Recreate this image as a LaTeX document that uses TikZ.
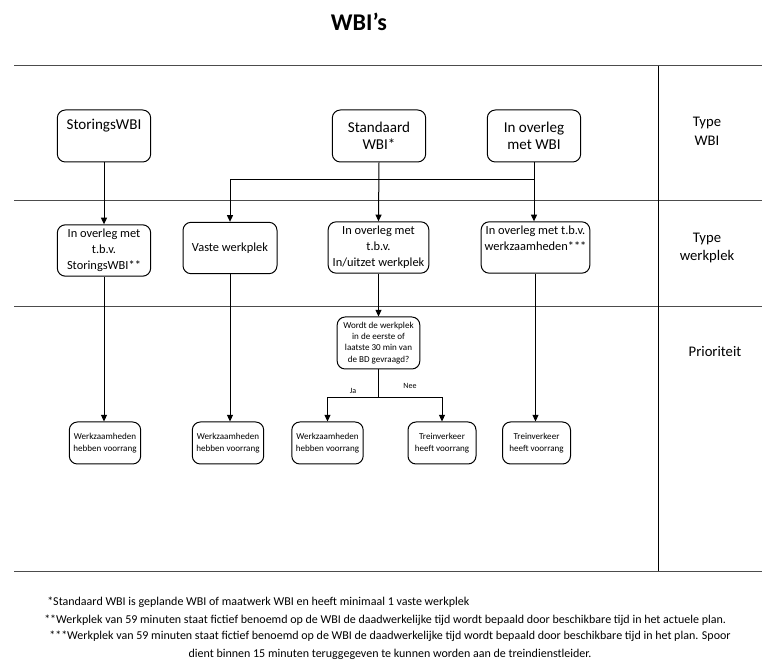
\documentclass[tikz,border=0pt]{standalone}
\usepackage{fontspec}
\setmainfont{Carlito}
\usetikzlibrary{arrows.meta}
\begin{document}
\begin{tikzpicture}[x=0.75pt,y=-0.75pt,
  box/.style={draw=black,line width=0.75pt,rounded corners=6pt,align=center,inner sep=1pt,fill=white},
  topbox/.style={box,minimum width=70pt,minimum height=39pt,font=\fontsize{11.3}{13}\selectfont},
  midbox/.style={box,minimum height=38.5pt,font=\fontsize{9.3}{12}\selectfont},
  lowbox/.style={box,minimum width=53.5pt,minimum height=31.5pt,font=\fontsize{6.8}{9}\selectfont},
  arr/.style={line width=0.75pt,-{Triangle[length=5pt,width=4.5pt]}},
  sect/.style={line width=0.75pt,draw=black!70},
  lbl/.style={font=\fontsize{11}{14}\selectfont,align=center},
  note/.style={font=\fontsize{9}{13}\selectfont,inner sep=0pt}]
\useasboundingbox (0,0) rectangle (772,670);
% title
\node[font=\fontsize{18}{20}\bfseries] (title) at (359,22) {WBI’s};
% section lines
\draw[sect] (14,66) -- (762,66);
\draw[sect] (14,201) -- (762,201);
\draw[sect] (14,307) -- (762,307);
\draw[sect] (14,571) -- (762,571);
\draw[line width=0.75pt] (658,66) -- (658,571);
% right labels
\node[lbl] (l1) at (707,131) {Type\\WBI};
\node[lbl] (l2) at (707,248) {Type\\werkplek};
\node[lbl] (l3) at (715,352) {Prioriteit};
% top row
\node[topbox] (sw) at (104,136) {StoringsWBI\\\strut};
\node[topbox] (st) at (379,136) {Standaard\\WBI*};
\node[topbox] (io) at (534,136) {In overleg\\met WBI};
% middle row
\node[midbox,minimum width=70pt] (ra) at (104,250.5) {In overleg met\\t.b.v.\\StoringsWBI**};
\node[midbox,minimum width=70.5pt] (rb) at (230,248) {Vaste werkplek};
\node[midbox,minimum width=75.5pt] (rc) at (378.5,247.5) {In overleg met\\t.b.v.\\In/uitzet werkplek};
\node[midbox,minimum width=81.5pt,text depth=13.8pt] (rd) at (535.5,247.5) {In overleg met t.b.v.\\werkzaamheden***};
% decision
\node[lowbox,minimum width=62pt,minimum height=39pt,font=\fontsize{6.8}{8.4}\selectfont] (dq) at (378.5,343) {Wordt de werkplek\\in de eerste of\\laatste 30 min van\\de BD gevraagd?};
% bottom row
\node[lowbox] (b1) at (105,443) {Werkzaamheden\\hebben voorrang};
\node[lowbox] (b2) at (228,443) {Werkzaamheden\\hebben voorrang};
\node[lowbox] (b3) at (327.5,443) {Werkzaamheden\\hebben voorrang};
\node[lowbox,minimum width=51pt] (b4) at (442,443) {Treinverkeer\\heeft voorrang};
\node[lowbox,minimum width=51pt] (b5) at (536.5,443) {Treinverkeer\\heeft voorrang};
% connectors
\draw[arr] (sw.south) -- (ra.north);
\draw[arr] (st.south) -- (rc.north);
\draw[arr] (io.south) -- (io.south |- rd.north);
\coordinate (jn) at (534,180);
\draw[arr] (jn) -| (rb.north);
\draw[arr] (ra.south) -- (ra.south |- b1.north);
\draw[arr] (rb.south) -- (rb.south |- b2.north);
\draw[arr] (rc.south) -- (dq.north);
\draw[arr] (rd.south) -- (rd.south |- b5.north);
\coordinate (sp) at (378.5,398);
\draw[line width=0.75pt] (dq.south) -- (sp);
\draw[arr] (sp) -| (b3.north);
\draw[arr] (sp) -| (b4.north);
\node[font=\fontsize{6}{7}\selectfont] (ja) at (353,391) {Ja};
\node[font=\fontsize{6}{7}\selectfont] (nee) at (410,386) {Nee};
% footnotes
\node[note,anchor=west] (n1) at (47,602) {*Standaard WBI is geplande WBI of maatwerk WBI en heeft minimaal 1 vaste werkplek};
\node[note,anchor=west] (n2) at (44,620) {**Werkplek van 59 minuten staat fictief benoemd op de WBI de daadwerkelijke tijd wordt bepaald door beschikbare tijd in het actuele plan.};
\node[note,align=center,anchor=north] (n3) at (390,631) {***Werkplek van 59 minuten staat fictief benoemd op de WBI de daadwerkelijke tijd wordt bepaald door beschikbare tijd in het plan. Spoor\\dient binnen 15 minuten teruggegeven te kunnen worden aan de treindienstleider.};
\end{tikzpicture}
\end{document}
